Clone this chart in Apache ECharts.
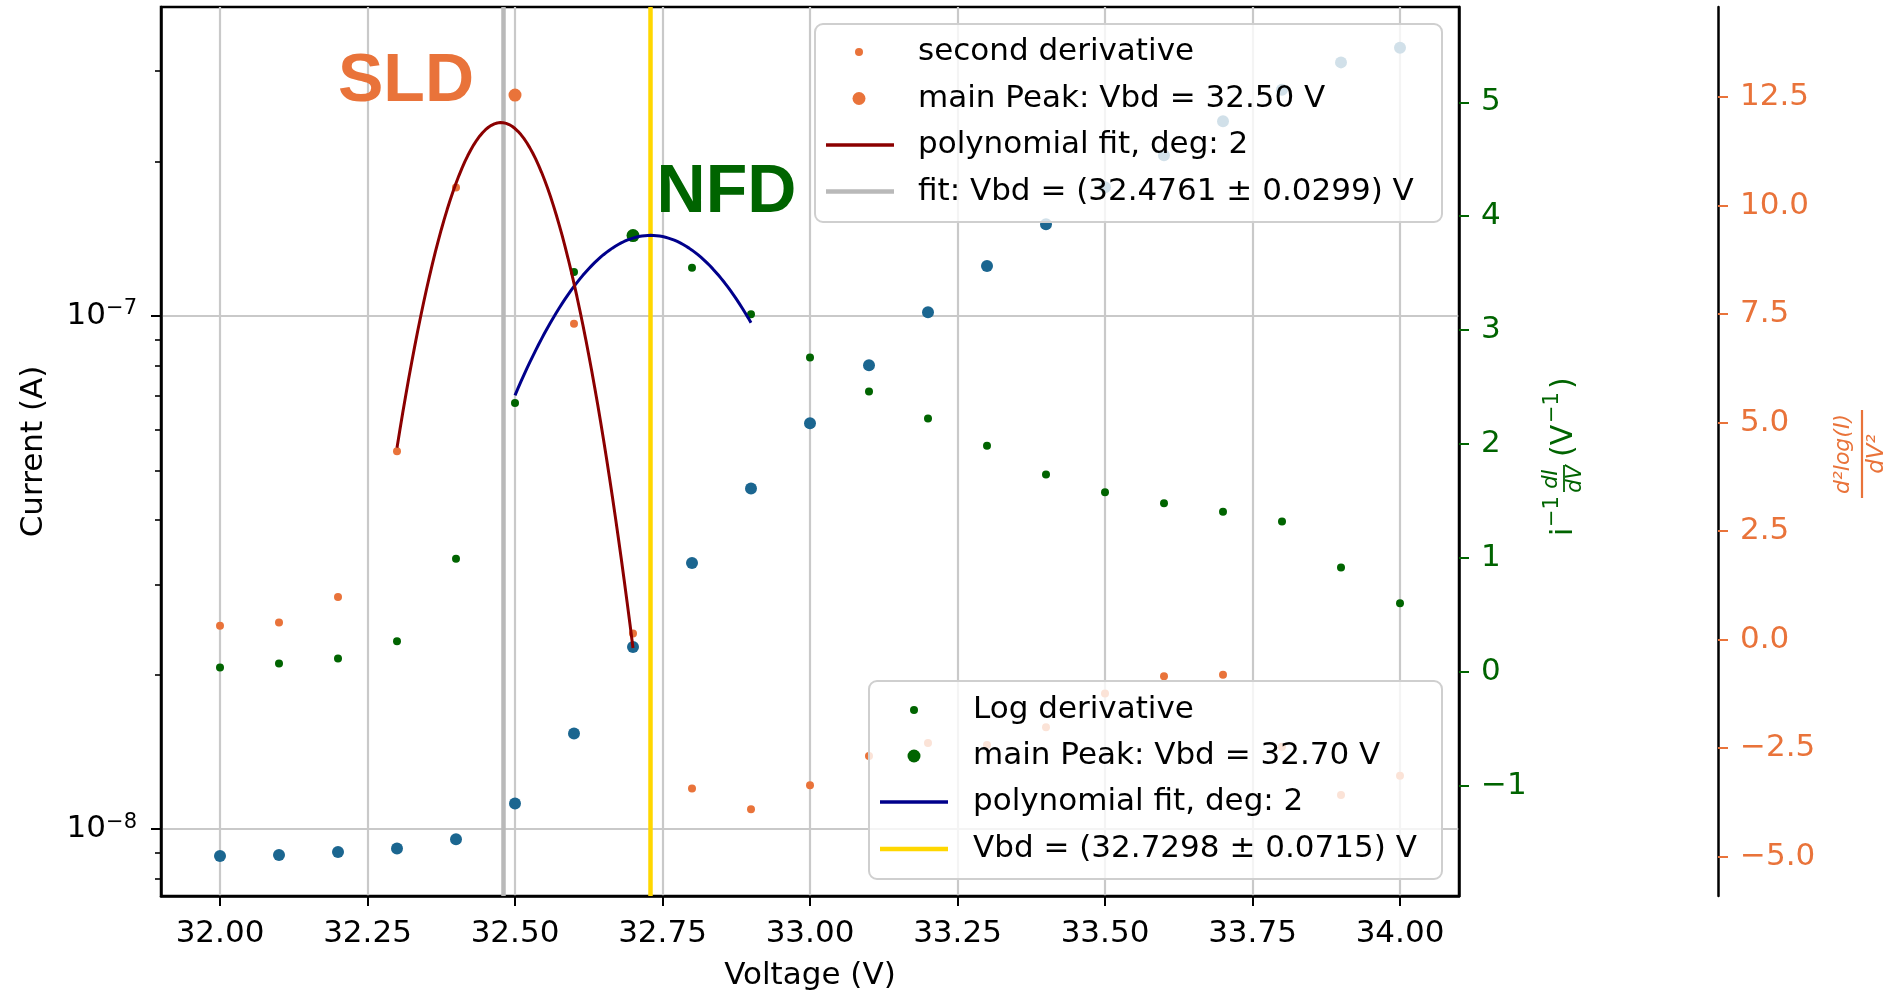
<!DOCTYPE html>
<html><head><meta charset="utf-8">
<script src="https://cdn.jsdelivr.net/npm/echarts@6/dist/echarts.min.js"></script>
<style>html,body{margin:0;padding:0;background:#fff}#c{width:1893px;height:994px}</style>
</head><body><div id="c"></div>
<script>
// ---------------- data ----------------
const voltage = [32.0, 32.1, 32.2, 32.3, 32.4, 32.5, 32.6, 32.7, 32.8, 32.9, 33.0,
                 33.1, 33.2, 33.3, 33.4, 33.5, 33.6, 33.7, 33.8, 33.9, 34.0];
const current = [8.87e-9, 8.91e-9, 9.03e-9, 9.17e-9, 9.56e-9, 1.122e-8, 1.536e-8, 2.265e-8, 3.30e-8, 4.61e-8, 6.18e-8,
                 8.02e-8, 1.017e-7, 1.252e-7, 1.509e-7, 1.781e-7, 2.056e-7, 2.395e-7, 2.76e-7, 3.12e-7, 3.33e-7];
const logDerivative = [0.041, 0.076, 0.12, 0.27, 0.994, 2.362, 3.51, 3.83, 3.547, 3.14, 2.76,
                       2.462, 2.225, 1.985, 1.734, 1.579, 1.482, 1.406, 1.322, 0.918, 0.603];
const secondDerivative = [0.318, 0.396, 0.979, 4.343, 10.42, 12.55, 7.277, 0.143, -3.43, -3.91, -3.36,
                          -2.684, -2.385, -2.43, -2.02, -1.24, -0.848, -0.81, -2.47, -3.58, -3.14];
const vbdSLD = 32.4761;
const vbdNFD = 32.7298;

const xTicks = [32.00, 32.25, 32.50, 32.75, 33.00, 33.25, 33.50, 33.75, 34.00];
const currentMajorTicks = [1e-8, 1e-7];
const currentMinorTicks = [8e-9, 9e-9, 2e-8, 3e-8, 4e-8, 5e-8, 6e-8, 7e-8, 8e-8, 9e-8, 2e-7, 3e-7];
const logDerivTicks = [-1, 0, 1, 2, 3, 4, 5];
const secondDerivTicks = [-5, -2.5, 0, 2.5, 5, 7.5, 10, 12.5];

const xRange = [31.9, 34.1];
const currentRange = [7.41e-9, 4.0e-7];
const logDerivRange = [-1.965, 5.836];
const secondDerivRange = [-5.91, 14.58];

const legendSecond = ['second derivative', 'main Peak: Vbd = 32.50 V', 'polynomial fit, deg: 2', 'fit: Vbd = (32.4761 \u00b1 0.0299) V'];
const legendLog = ['Log derivative', 'main Peak: Vbd = 32.70 V', 'polynomial fit, deg: 2', 'Vbd = (32.7298 \u00b1 0.0715) V'];
const annotationText = ['SLD', 'NFD'];
const annotationPos = [[32.2, 12.85], [32.74, 4.2]];

// ---------------- helpers ----------------
function argmax(a) { let k = 0; for (let i = 1; i < a.length; i++) if (a[i] > a[k]) k = i; return k; }
function polyfit2(xs, ys) {
  const n = xs.length; const m = xs.reduce((s, v) => s + v, 0) / n;
  let S = [0, 0, 0, 0, 0], T = [0, 0, 0];
  for (let i = 0; i < n; i++) {
    const t = xs[i] - m;
    for (let p = 0; p < 5; p++) S[p] += Math.pow(t, p);
    for (let p = 0; p < 3; p++) T[p] += ys[i] * Math.pow(t, p);
  }
  const M = [[S[4], S[3], S[2]], [S[3], S[2], S[1]], [S[2], S[1], S[0]]];
  const det = A => A[0][0]*(A[1][1]*A[2][2]-A[1][2]*A[2][1]) - A[0][1]*(A[1][0]*A[2][2]-A[1][2]*A[2][0]) + A[0][2]*(A[1][0]*A[2][1]-A[1][1]*A[2][0]);
  const R = [T[2], T[1], T[0]]; const D = det(M);
  const sol = [0, 1, 2].map(c => det(M.map((row, r) => row.map((v, j) => j === c ? R[r] : v))) / D);
  return t => sol[0] * (t - m) * (t - m) + sol[1] * (t - m) + sol[2];
}
function fitCurve(xs, ys, peak) {
  const wx = xs.slice(peak - 2, peak + 3), wy = ys.slice(peak - 2, peak + 3);
  const f = polyfit2(wx, wy); const out = [];
  const N = 80;
  for (let i = 0; i <= N; i++) { const x = wx[0] + (wx[wx.length - 1] - wx[0]) * i / N; out.push([x, f(x)]); }
  return out;
}
const minus = v => (v < 0 ? '\u2212' : '') + Math.abs(v);

const FONT = 'DejaVu Sans';
const BLUE = '#1b6690', GREEN = '#006400', ORANGE = '#e9733a', DARKRED = '#8b0000', NAVY = '#00008b', GOLD = '#ffd700', SILVER = '#b9b9b9';

const slPeak = argmax(secondDerivative), nfPeak = argmax(logDerivative);
const zip = (a, b) => a.map((v, i) => [v, b[i]]);

// ---------------- legends & axis titles (graphic) ----------------
const ZL = 100;
function legendBox(x, y, w, h, rows, markerX, lineX0, lineX1, textX, labels, styles) {
  const ch = [{ type: 'rect', z: ZL, shape: { x: x, y: y, width: w, height: h, r: 8 }, style: { fill: 'rgba(255,255,255,0.8)', stroke: '#cfcfcf', lineWidth: 2 } }];
  labels.forEach((t, i) => {
    const s = styles[i];
    if (s.kind === 'dot') ch.push({ type: 'circle', z: ZL + 1, shape: { cx: markerX, cy: rows[i], r: s.r }, style: { fill: s.color } });
    else ch.push({ type: 'line', z: ZL + 1, shape: { x1: lineX0, y1: rows[i], x2: lineX1, y2: rows[i] }, style: { stroke: s.color, lineWidth: s.w } });
    ch.push({ type: 'text', z: ZL + 1, x: textX, y: rows[i], style: { text: t, font: '31px "DejaVu Sans"', fill: '#000', align: 'left', verticalAlign: 'middle' } });
  });
  return { type: 'group', children: ch };
}
const gt = (x, y, text, font, color, align) => ({ type: 'text', z: 50, x: x, y: y, style: { text: text, font: font, fill: color, align: align || 'left', verticalAlign: 'middle' } });
const graphics = [
  legendBox(815, 24, 627, 198, [52, 98.5, 145, 191.5], 859, 826, 894, 918, legendSecond,
    [{ kind: 'dot', r: 4, color: ORANGE }, { kind: 'dot', r: 6.5, color: ORANGE }, { kind: 'line', w: 3.5, color: DARKRED }, { kind: 'line', w: 4.5, color: SILVER }]),
  legendBox(869, 681, 573, 198, [710, 756, 802, 849], 914, 880, 948, 973, legendLog,
    [{ kind: 'dot', r: 4, color: GREEN }, { kind: 'dot', r: 6.5, color: GREEN }, { kind: 'line', w: 3.5, color: NAVY }, { kind: 'line', w: 4.5, color: GOLD }]),
  // green axis title: i^-1 dI/dV (V^-1)
  { type: 'group', x: 1574, y: 537, rotation: Math.PI / 2, children: [
    gt(1, -10, 'i', '30px "DejaVu Sans"', GREEN),
    gt(10, -21, '\u22121', '21px "DejaVu Sans"', GREEN),
    gt(58, -22, 'dI', 'italic 21px "DejaVu Sans"', GREEN, 'center'),
    { type: 'line', z: 50, shape: { x1: 45, y1: -10, x2: 72, y2: -10 }, style: { stroke: GREEN, lineWidth: 1.8 } },
    gt(58, 2, 'dV', 'italic 21px "DejaVu Sans"', GREEN, 'center'),
    gt(80, -10, '(V', '30px "DejaVu Sans"', GREEN),
    gt(114, -21, '\u22121', '21px "DejaVu Sans"', GREEN),
    gt(148, -10, ')', '30px "DejaVu Sans"', GREEN)
  ] },
  // orange axis title: d2log(I)/dV2
  { type: 'group', x: 1862, y: 497, rotation: Math.PI / 2, children: [
    gt(43, -19, 'd\u00b2log(I)', 'italic 22px "DejaVu Sans"', ORANGE, 'center'),
    { type: 'line', z: 50, shape: { x1: -1, y1: 0, x2: 87, y2: 0 }, style: { stroke: ORANGE, lineWidth: 2.2 } },
    gt(43, 15, 'dV\u00b2', 'italic 23px "DejaVu Sans"', ORANGE, 'center')
  ] }
];

// ---------------- chart ----------------
const chart = echarts.init(document.getElementById('c'));
const tickFont = { fontSize: 31, fontFamily: FONT };
const option = {
  animation: false,
  backgroundColor: '#fff',
  textStyle: { fontFamily: FONT },
  grid: { left: 161, right: 434, top: 7, bottom: 98, containLabel: false, outerBoundsMode: 'none',
          show: true, borderColor: '#000', borderWidth: 2.5, backgroundColor: 'transparent' },
  xAxis: {
    type: 'value', min: xRange[0], max: xRange[1],
    name: 'Voltage (V)', nameLocation: 'middle', nameGap: 64, nameTextStyle: { fontSize: 31, color: '#000', fontFamily: FONT },
    axisLine: { show: true, onZero: false, lineStyle: { color: '#000', width: 2.5 } },
    axisTick: { show: true, customValues: xTicks, length: 10, lineStyle: { color: '#000', width: 2 } },
    axisLabel: Object.assign({ customValues: xTicks, formatter: v => v.toFixed(2), color: '#000', margin: 22 }, tickFont),
    splitLine: { show: true, lineStyle: { color: '#c9c9c9', width: 2.2 } }
  },
  yAxis: [
    {
      type: 'log', logBase: 10, position: 'left', min: currentRange[0], max: currentRange[1],
      name: 'Current (A)', nameLocation: 'middle', nameGap: 112, nameTextStyle: { fontSize: 31, color: '#000', fontFamily: FONT },
      axisLine: { show: true, onZero: false, lineStyle: { color: '#000', width: 2.5 } },
      axisTick: { show: true, customValues: currentMajorTicks, length: 10, lineStyle: { color: '#000', width: 2 } },
      axisLabel: {
        customValues: currentMajorTicks, margin: 24,
        formatter: v => '{b|10}{s|\u2212' + Math.round(-Math.log10(v)) + '}',
        rich: { b: { fontSize: 31, fontFamily: FONT, color: '#000' }, s: { fontSize: 21, fontFamily: FONT, color: '#000', padding: [0, 0, 14, 0] } }
      },
      splitLine: { show: true, lineStyle: { color: '#c9c9c9', width: 2.2 } },
      minorTick: { show: false }
    },
    {
      type: 'log', logBase: 10, position: 'left', min: currentRange[0], max: currentRange[1],
      axisLine: { show: false },
      axisTick: { show: true, customValues: currentMinorTicks, length: 6, lineStyle: { color: '#000', width: 1.6 } },
      axisLabel: { show: false }, splitLine: { show: false }
    },
    {
      type: 'value', position: 'right', offset: 0, min: logDerivRange[0], max: logDerivRange[1],
      axisLine: { show: true, onZero: false, lineStyle: { color: '#000', width: 2.5 } },
      axisTick: { show: true, customValues: logDerivTicks, length: 10, lineStyle: { color: GREEN, width: 2 } },
      axisLabel: Object.assign({ customValues: logDerivTicks, formatter: minus, color: GREEN, margin: 22 }, tickFont),
      splitLine: { show: false }
    },
    {
      type: 'value', position: 'right', offset: 259, min: secondDerivRange[0], max: secondDerivRange[1],
      axisLine: { show: true, onZero: false, lineStyle: { color: '#000', width: 2.5 } },
      axisTick: { show: true, customValues: secondDerivTicks, length: 10, lineStyle: { color: ORANGE, width: 2 } },
      axisLabel: Object.assign({ customValues: secondDerivTicks, formatter: v => (v < 0 ? '\u2212' : '') + Math.abs(v).toFixed(1), color: ORANGE, margin: 22 }, tickFont),
      splitLine: { show: false }
    }
  ],
  graphic: graphics,
  series: [
    { name: 'Current', type: 'scatter', silent: true, yAxisIndex: 0, symbolSize: 12, itemStyle: { color: BLUE, opacity: 1 }, data: zip(voltage, current), z: 2 },
    { name: 'Log derivative', type: 'scatter', silent: true, yAxisIndex: 2, symbolSize: 8, itemStyle: { color: GREEN, opacity: 1 }, data: zip(voltage, logDerivative), z: 3 },
    { name: 'main Peak NFD', type: 'scatter', silent: true, yAxisIndex: 2, symbolSize: 13, itemStyle: { color: GREEN, opacity: 1 }, data: [[voltage[nfPeak], logDerivative[nfPeak]]], z: 3 },
    { name: 'fit NFD', type: 'line', silent: true, yAxisIndex: 2, showSymbol: false, symbol: 'none', lineStyle: { color: NAVY, width: 3 }, data: fitCurve(voltage, logDerivative, nfPeak), z: 4,
      markLine: { silent: true, symbol: ['none', 'none'], label: { show: false }, lineStyle: { color: GOLD, width: 4.5, type: 'solid' }, data: [{ xAxis: vbdNFD }], z: 3 } },
    { name: 'second derivative', type: 'scatter', silent: true, yAxisIndex: 3, symbolSize: 8, itemStyle: { color: ORANGE, opacity: 1 }, data: zip(voltage, secondDerivative), z: 5 },
    { name: 'main Peak SLD', type: 'scatter', silent: true, yAxisIndex: 3, symbolSize: 13, itemStyle: { color: ORANGE, opacity: 1 }, data: [[voltage[slPeak], secondDerivative[slPeak]]], z: 5 },
    { name: 'fit SLD', type: 'line', silent: true, yAxisIndex: 3, showSymbol: false, symbol: 'none', lineStyle: { color: DARKRED, width: 3 }, data: fitCurve(voltage, secondDerivative, slPeak), z: 6,
      markLine: { silent: true, symbol: ['none', 'none'], label: { show: false }, lineStyle: { color: SILVER, width: 4.5, type: 'solid' }, data: [{ xAxis: vbdSLD }], z: 3 } },
    { name: 'SLD label', type: 'scatter', silent: true, yAxisIndex: 3, symbolSize: 0, itemStyle: { opacity: 1 }, data: [annotationPos[0]], z: 7,
      label: { show: true, position: 'right', distance: 0, opacity: 1, formatter: annotationText[0], fontSize: 68, fontWeight: 'bold', fontFamily: 'Liberation Sans', color: ORANGE } },
    { name: 'NFD label', type: 'scatter', silent: true, yAxisIndex: 2, symbolSize: 0, itemStyle: { opacity: 1 }, data: [annotationPos[1]], z: 7,
      label: { show: true, position: 'right', distance: 0, opacity: 1, formatter: annotationText[1], fontSize: 68, fontWeight: 'bold', fontFamily: 'Liberation Sans', color: GREEN } }
  ]
};
chart.setOption(option);
</script></body></html>
